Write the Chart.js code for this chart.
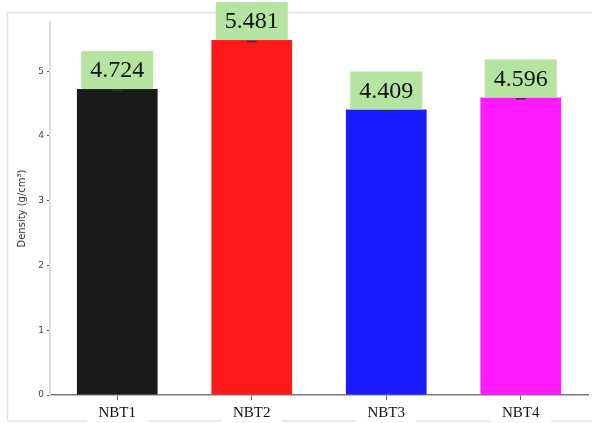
<!DOCTYPE html>
<html>
<head>
<meta charset="utf-8">
<script src="https://cdn.jsdelivr.net/npm/chart.js@4/dist/chart.umd.min.js"></script>
<style>
html,body{margin:0;padding:0;background:#fff;}
#wrap{width:592px;height:423px;position:relative;}
</style>
</head>
<body>
<div id="wrap"><canvas id="c" width="592" height="423"></canvas></div>
<script>
const categories = ["NBT1", "NBT2", "NBT3", "NBT4"];
const densities = [4.724, 5.481, 4.409, 4.596];
const valueLabels = ["4.724", "5.481", "4.409", "4.596"];
const barColors = ["#1a1a1a", "#ff1a1a", "#1a1aff", "#ff1aff"];
const yTicks = [0, 1, 2, 3, 4, 5];

const framePlugin = {
  id: 'frame',
  beforeDraw(chart) {
    const ctx = chart.ctx;
    ctx.save();
    ctx.fillStyle = '#fff';
    ctx.fillRect(0, 0, chart.width, chart.height);
    ctx.strokeStyle = '#e2e2e2';
    ctx.lineWidth = 1.5;
    ctx.beginPath();
    ctx.moveTo(7.5, 421);
    ctx.lineTo(7.5, 12.5);
    ctx.lineTo(592, 12.5);
    ctx.moveTo(7.5, 421);
    ctx.lineTo(592, 421);
    ctx.stroke();
    const xs = chart.scales.x;
    ctx.fillStyle = '#fff';
    categories.forEach((c, i) => {
      const x = xs.getPixelForValue(i);
      ctx.fillRect(x - 30, 418, 60, 6);
    });
    ctx.restore();
  },
  afterDatasetsDraw(chart) {
    const ctx = chart.ctx;
    const meta = chart.getDatasetMeta(0);
    ctx.save();
    meta.data.forEach((bar, i) => {
      const x = bar.x, y = bar.y;
      ctx.strokeStyle = '#333';
      ctx.lineWidth = 1.5;
      ctx.beginPath();
      ctx.moveTo(x - 5, y + 1.5);
      ctx.lineTo(x + 5, y + 1.5);
      ctx.stroke();
      const w = 72, h = 38;
      ctx.fillStyle = '#b4e4a0';
      ctx.fillRect(x - w / 2, y - h, w, h);
      ctx.fillStyle = '#111';
      ctx.font = '24px "Liberation Serif", "Times New Roman", serif';
      ctx.textAlign = 'center';
      ctx.textBaseline = 'middle';
      ctx.fillText(valueLabels[i], x, y - h / 2 + 1);
    });
    ctx.restore();
  }
};

new Chart(document.getElementById('c'), {
  type: 'bar',
  data: {
    labels: categories,
    datasets: [{
      data: densities,
      backgroundColor: barColors,
      borderWidth: 0,
      barPercentage: 0.6,
      categoryPercentage: 1.0
    }]
  },
  options: {
    responsive: false,
    animation: false,
    devicePixelRatio: 1,
    layout: { padding: { left: 0, right: 4, top: 22, bottom: 0 } },
    plugins: { legend: { display: false }, tooltip: { enabled: false } },
    scales: {
      x: {
        offset: true,
        grid: { offset: false, drawOnChartArea: false, drawTicks: true, tickLength: 5, color: '#666', lineWidth: 1 },
        border: { display: true, color: '#777', width: 1.5 },
        ticks: {
          color: '#111',
          padding: 4,
          font: { family: '"Liberation Serif", "Times New Roman", serif', size: 15 }
        },
        afterFit(s) { s.height = 28; }
      },
      y: {
        min: 0,
        max: 5.76,
        afterBuildTicks(s) { s.ticks = yTicks.map(v => ({ value: v })); },
        grid: { drawOnChartArea: false, drawTicks: true, tickLength: 3, color: '#555', lineWidth: 1 },
        border: { display: true, color: '#dadada', width: 2 },
        ticks: {
          color: '#444',
          padding: 3,
          includeBounds: false,
          font: { family: '"DejaVu Sans", sans-serif', size: 9 }
        },
        title: {
          display: true,
          text: 'Density (g/cm³)',
          color: '#333',
          padding: { top: 16, bottom: 0 },
          font: { family: '"DejaVu Sans", sans-serif', size: 10 }
        },
        afterFit(s) { s.width = 50; }
      }
    }
  },
  plugins: [framePlugin]
});
</script>
</body>
</html>
